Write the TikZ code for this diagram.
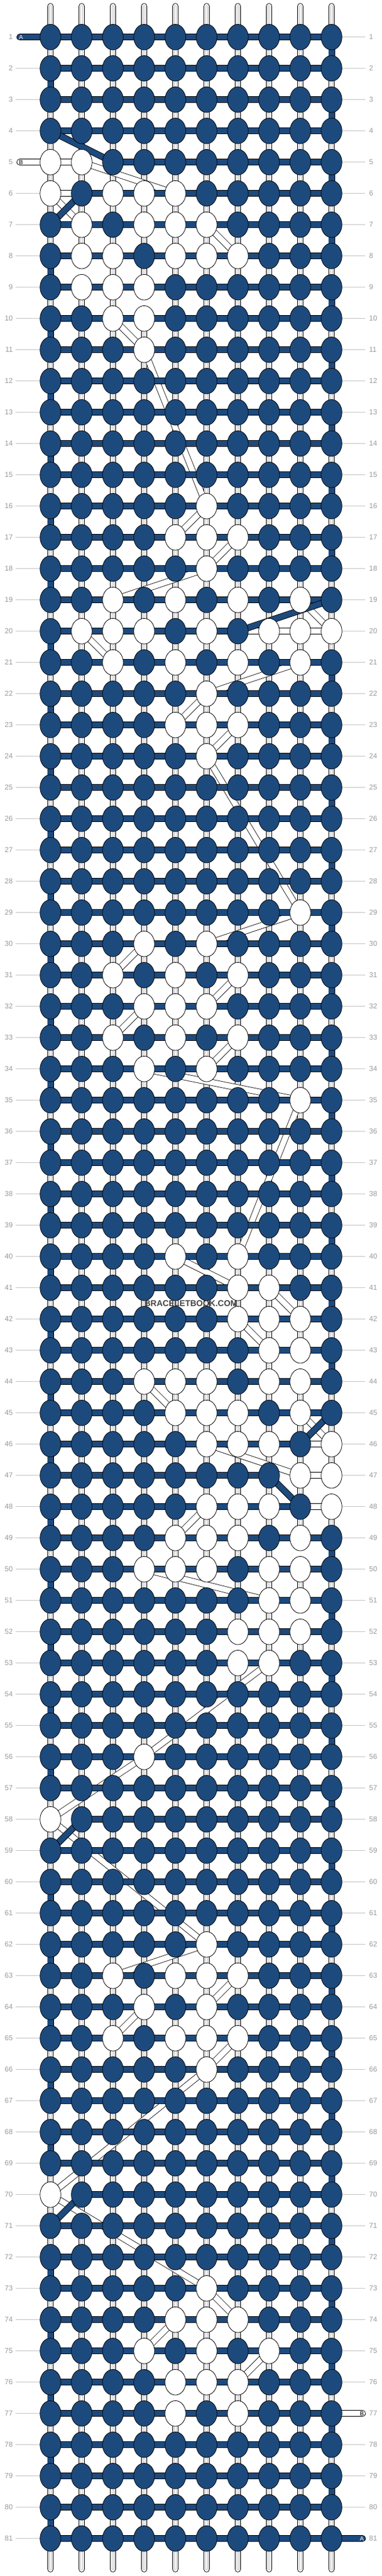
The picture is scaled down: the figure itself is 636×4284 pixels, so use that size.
\documentclass[tikz,border=0pt]{standalone}
\usepackage{fontspec}
\setmainfont{Liberation Sans}
\usetikzlibrary{shapes.geometric}
\definecolor{bb}{HTML}{1D4A7D}
\definecolor{labgray}{HTML}{9A9A9A}
\definecolor{lingray}{HTML}{C4C4C4}
\definecolor{wmgray}{HTML}{444444}

\newcount\kcol
\def\setrow#1#2{\global\kcol=0 \def\krowname{#1}\kparse#2\relax}
\def\kparse#1{\ifx#1\relax\else\global\advance\kcol by 1 \expandafter\xdef\csname KN-\krowname-\the\kcol\endcsname{#1}\expandafter\kparse\fi}
\def\kget#1#2{\csname KN-#1-#2\endcsname}

\setrow{1}{0000000000}
\setrow{2}{0000000000}
\setrow{3}{0000000000}
\setrow{4}{0000000000}
\setrow{5}{1100000000}
\setrow{6}{1011100000}
\setrow{7}{0101110000}
\setrow{8}{0110111000}
\setrow{9}{0111000000}
\setrow{10}{0011000000}
\setrow{11}{0001000000}
\setrow{12}{0000000000}
\setrow{13}{0000000000}
\setrow{14}{0000000000}
\setrow{15}{0000000000}
\setrow{16}{0000010000}
\setrow{17}{0000111000}
\setrow{18}{0000010000}
\setrow{19}{0010101010}
\setrow{20}{0111010111}
\setrow{21}{0010101010}
\setrow{22}{0000010000}
\setrow{23}{0000111000}
\setrow{24}{0000010000}
\setrow{25}{0000000000}
\setrow{26}{0000000000}
\setrow{27}{0000000000}
\setrow{28}{0000000000}
\setrow{29}{0000000010}
\setrow{30}{0001010000}
\setrow{31}{0010101000}
\setrow{32}{0001110000}
\setrow{33}{0010101000}
\setrow{34}{0001010000}
\setrow{35}{0000000010}
\setrow{36}{0000000000}
\setrow{37}{0000000000}
\setrow{38}{0000000000}
\setrow{39}{0000000000}
\setrow{40}{0000101000}
\setrow{41}{0000001100}
\setrow{42}{0000001110}
\setrow{43}{0000000110}
\setrow{44}{0001110110}
\setrow{45}{0000111010}
\setrow{46}{0000011101}
\setrow{47}{0000000011}
\setrow{48}{0000011101}
\setrow{49}{0000111010}
\setrow{50}{0001110110}
\setrow{51}{0000000110}
\setrow{52}{0000001110}
\setrow{53}{0000001100}
\setrow{54}{0000000000}
\setrow{55}{0000000000}
\setrow{56}{0001000000}
\setrow{57}{0000000000}
\setrow{58}{1000000000}
\setrow{59}{0000000000}
\setrow{60}{0000000000}
\setrow{61}{0000000000}
\setrow{62}{0000010000}
\setrow{63}{0010111000}
\setrow{64}{0001010000}
\setrow{65}{0010111000}
\setrow{66}{0000010000}
\setrow{67}{0000000000}
\setrow{68}{0000000000}
\setrow{69}{0000000000}
\setrow{70}{1000000000}
\setrow{71}{0000000000}
\setrow{72}{0000000000}
\setrow{73}{0000010000}
\setrow{74}{0000111000}
\setrow{75}{0001010100}
\setrow{76}{0000111000}
\setrow{77}{0000101000}
\setrow{78}{0000000000}
\setrow{79}{0000000000}
\setrow{80}{0000000000}
\setrow{81}{0000000000}

\newcommand\strandpass[4]{%
  \xdef\prevpt{#3}%
  \foreach \kr in {1,...,81}{%
    \foreach \cc in {1,...,10}{%
      \ifodd\kr\relax \edef\kc{\cc}\else\edef\kc{\the\numexpr11-\cc\relax}\fi
      \if\kget{\kr}{\kc}#1%
        \draw[#2] (\prevpt) -- (p-\kr-\kc);
        \xdef\prevpt{p-\kr-\kc}%
      \fi
    }%
  }%
  \draw[#2] (\prevpt) -- (#4);
}

\newcommand\karrow[3]{% name, sign (1 right, -1 left), colour
  \draw[arrowline, #3] ([xshift=-#2*6.5pt]#1) -- ([xshift=#2*6pt]#1);
  \draw[arrowline, #3] ([shift={(#2*0.5pt,5.2pt)}]#1) -- ([xshift=#2*6pt]#1) -- ([shift={(#2*0.5pt,-5.2pt)}]#1);
}

\begin{document}
\begin{tikzpicture}[x=1pt,y=-1pt,
  lab/.style={text=labgray, font=\fontsize{12}{12}\selectfont, inner sep=0pt},
  labline/.style={draw=lingray, line width=0.9pt},
  basestr/.style={draw=black, line width=0.9pt, double=white, double distance=8.8pt, line cap=round},
  basemid/.style={draw=lingray, line width=0.9pt, double=white, double distance=1.6pt, line cap=round},
  strA/.style={draw=black, line width=0.9pt, double=bb, double distance=9.2pt, line cap=round},
  strB/.style={draw=black, line width=0.8pt, double=white, double distance=9.2pt, line cap=round},
  knotA/.style={ellipse, draw=black, line width=0.8pt, fill=bb, minimum width=34.6pt, minimum height=42.6pt, inner sep=0pt},
  knotB/.style={ellipse, draw=black, line width=0.8pt, fill=white, minimum width=34.6pt, minimum height=42.6pt, inner sep=0pt},
  arrowline/.style={line width=2.2pt, line cap=butt, line join=miter},
  endlab/.style={font=\fontsize{10}{10}\selectfont, inner sep=0pt}]
\fill[white] (0,0) rectangle (636,4284);
\useasboundingbox (0,0) rectangle (636,4284);

% cell coordinates
\foreach \kr in {1,...,81}{\foreach \kc in {1,...,10}{%
  \coordinate (p-\kr-\kc) at ({32+52*\kc},{9.7+52*\kr});}}
\coordinate (A-start) at (33,61.7);
\coordinate (A-end) at (603.5,4221.7);
\coordinate (B-start) at (33,269.7);
\coordinate (B-end) at (603.5,4013.7);

% row labels
\foreach \kr in {1,...,81}{%
  \pgfmathsetmacro\ky{9.7+52*\kr}
  \node[lab,anchor=east] (ll-\kr) at (21.5,\ky) {\kr};
  \node[lab,anchor=west] (rl-\kr) at (614.5,\ky) {\kr};
  \coordinate (lla-\kr) at (26,\ky);
  \coordinate (llb-\kr) at (66,\ky);
  \coordinate (rla-\kr) at (570,\ky);
  \coordinate (rlb-\kr) at (608,\ky);
  \draw[labline] (lla-\kr) -- (llb-\kr);
  \draw[labline] (rla-\kr) -- (rlb-\kr);
}

% vertical base strands
\foreach \kc in {1,...,10}{%
  \coordinate (top-\kc) at ({32+52*\kc},10.5);
  \coordinate (bot-\kc) at ({32+52*\kc},4272.5);
  \draw[basestr] (top-\kc) -- (bot-\kc);
  \draw[basemid] (top-\kc) -- (bot-\kc);
}

% strands
\strandpass{1}{strB}{B-start}{B-end}
\strandpass{0}{strA}{A-start}{A-end}

% knots
\foreach \kr in {1,...,81}{%
  \foreach \kc in {1,...,10}{%
    \ifodd\kr\relax \def\ksg{1}\else\def\ksg{-1}\fi
    \if\kget{\kr}{\kc}1%
      \node[knotB] (k-\kr-\kc) at (p-\kr-\kc) {};
      \karrow{k-\kr-\kc}{\ksg}{black}
    \else
      \node[knotA] (k-\kr-\kc) at (p-\kr-\kc) {};
      \karrow{k-\kr-\kc}{\ksg}{white}
    \fi
  }%
}

% strand end labels
\node[endlab, text=white] (A-lab-l) at (35,61.7) {A};
\node[endlab, text=white] (A-lab-r) at (602.5,4221.7) {A};
\node[endlab, text=black] (B-lab-l) at (35,269.7) {B};
\node[endlab, text=black] (B-lab-r) at (602.5,4013.7) {B};

% watermark
\node[font=\bfseries\fontsize{14}{14}\selectfont, text=wmgray, inner sep=0pt] (wm) at (318,2167.7) {BRACELETBOOK.COM};
\end{tikzpicture}
\end{document}
